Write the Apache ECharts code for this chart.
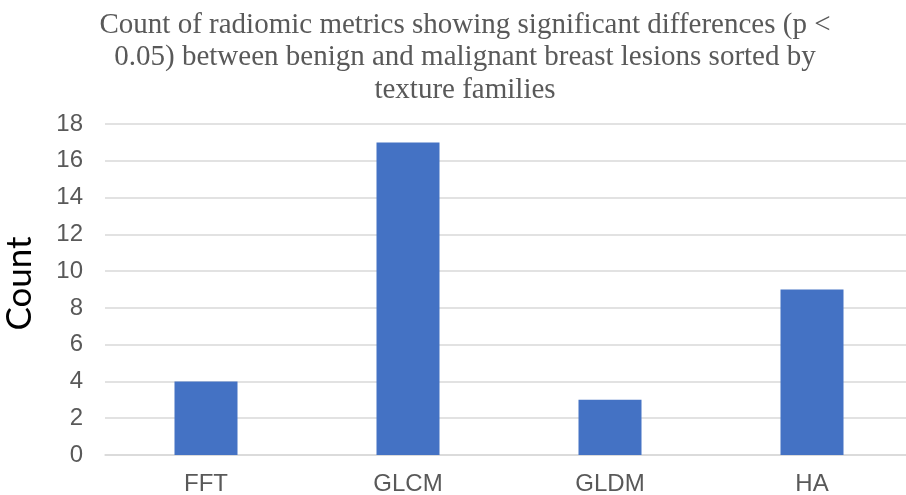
<!DOCTYPE html>
<html>
<head>
<meta charset="utf-8">
<script src="https://cdn.jsdelivr.net/npm/echarts@6/dist/echarts.min.js"></script>
<style>
  html, body { margin: 0; padding: 0; background: #fff; }
  #chart { width: 906px; height: 495px; }
</style>
</head>
<body>
<div id="chart"></div>
<script>
// Texture families and how many metrics differed significantly in each
const categories = ['FFT', 'GLCM', 'GLDM', 'HA'];
const counts = [4, 17, 3, 9];
const yTicks = { min: 0, max: 18, interval: 2 };
const titleLines = [
  'Count of radiomic metrics showing significant differences (p <',
  '0.05) between benign and malignant breast lesions sorted by',
  'texture families'
];

const chart = echarts.init(document.getElementById('chart'), null, { renderer: 'canvas' });
chart.setOption({
  animation: false,
  backgroundColor: '#ffffff',
  title: {
    text: titleLines.join('\n'),
    left: 460,
    top: 4,
    textAlign: 'center',
    textStyle: {
      fontFamily: '"Liberation Serif", "DejaVu Serif", serif',
      fontWeight: 'normal',
      fontSize: 29,
      lineHeight: 32.5,
      color: '#595959'
    }
  },
  grid: {
    left: 105, top: 124, width: 808, height: 331,
    containLabel: false,
    outerBoundsMode: 'none'
  },
  xAxis: {
    type: 'category',
    data: categories,
    axisLine: { show: true, lineStyle: { color: '#d9d9d9', width: 1.5 } },
    axisTick: { show: false },
    axisLabel: {
      margin: 17,
      fontFamily: '"Liberation Sans", Arial, sans-serif',
      fontSize: 24,
      color: '#595959'
    }
  },
  yAxis: {
    type: 'value',
    min: yTicks.min,
    max: yTicks.max,
    interval: yTicks.interval,
    name: 'Count',
    nameLocation: 'middle',
    nameGap: 68,
    nameRotate: 90,
    nameTextStyle: {
      fontFamily: 'Lato, "Open Sans", sans-serif',
      fontSize: 35,
      color: '#000000',
      padding: [0, 0, 0, 12]
    },
    axisLine: { show: false },
    axisTick: { show: false },
    splitLine: { lineStyle: { color: '#d9d9d9', width: 1.5 } },
    axisLabel: {
      margin: 22,
      fontFamily: '"Liberation Sans", Arial, sans-serif',
      fontSize: 24,
      color: '#595959'
    }
  },
  series: [{
    type: 'bar',
    data: counts,
    barWidth: 63,
    itemStyle: { color: '#4472c4' }
  }]
});
</script>
</body>
</html>
